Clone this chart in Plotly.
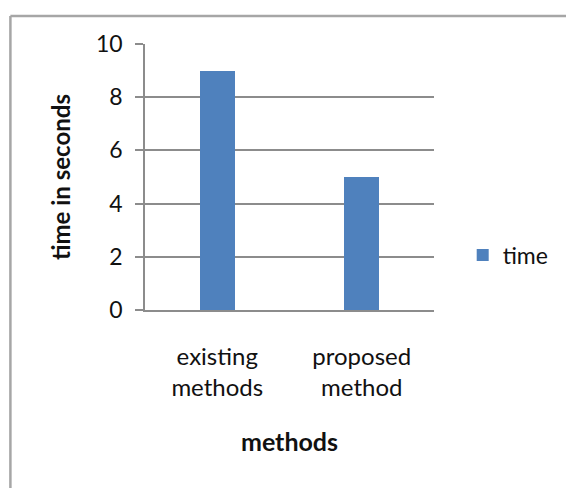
import plotly.graph_objects as go

# Chart data
categories = ["existing<br>methods", "proposed<br>method"]
times = [9, 5]
series_name = "time"
y_ticks = [0, 2, 4, 6, 8, 10]

FONT = "Lato, Calibri, 'Open Sans', sans-serif"
BAR = "#4F81BD"
GRID = "#8C8C8C"
FRAME = "#A6A6A6"

fig = go.Figure()
fig.add_trace(go.Bar(
    x=categories, y=times, name=series_name,
    marker=dict(color=BAR, line=dict(width=0)),
    width=0.245, showlegend=True,
))

W, H = 566, 488
L, R, T, B = 145, 129, 44, 178
pw, ph = W - L - R, H - T - B

fig.update_layout(
    width=W, height=H,
    margin=dict(l=L, r=R, t=T, b=B, pad=0),
    paper_bgcolor="white", plot_bgcolor="white",
    font=dict(family=FONT, size=22, color="#111111"),
    bargap=0,
    showlegend=True,
    legend=dict(x=(466 - L) / pw, y=(H - B - 255) / ph, xanchor="left", yanchor="middle",
                font=dict(size=23), itemwidth=30, bgcolor="rgba(0,0,0,0)"),
    xaxis=dict(
        showline=True, linecolor=GRID, linewidth=1.5,
        showgrid=False, ticks="", tickfont=dict(size=24), ticklabelstandoff=24,
        title=dict(text="<b>methods</b>", font=dict(size=25), standoff=34),
    ),
    yaxis=dict(
        range=[0, 10], tickvals=y_ticks,
        showline=True, linecolor=GRID, linewidth=1.5,
        showgrid=True, gridcolor=GRID, gridwidth=1.5,
        ticks="outside", ticklen=8, tickcolor=GRID, tickwidth=1.5,
        tickfont=dict(size=23), ticklabelstandoff=8,
        zeroline=False,
        title=dict(text="<b>time in seconds</b>", font=dict(size=24), standoff=19),
    ),
)

# outer chart frame (left and top edges visible)
fx0 = (9 - L) / pw
fy1 = (H - B - 16) / ph
fig.add_shape(type="line", xref="paper", yref="paper",
              x0=fx0, x1=fx0, y0=fy1, y1=-2, line=dict(color=FRAME, width=2.5))
fig.add_shape(type="line", xref="paper", yref="paper",
              x0=fx0, x1=3, y0=fy1, y1=fy1, line=dict(color=FRAME, width=2.5))

fig.write_html("out.html")
